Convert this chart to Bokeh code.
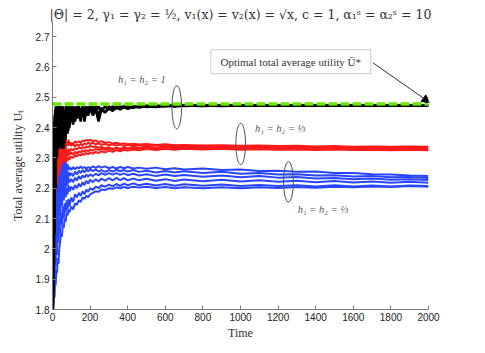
from bokeh.plotting import figure
from bokeh.models import Label, Arrow, NormalHead, BoxAnnotation, FixedTicker, NumeralTickFormatter
from bokeh.embed import file_html
from bokeh.resources import INLINE

# ---------------- data ----------------
T = [2, 5, 8, 11, 14, 17, 20, 24, 28, 32, 36, 40, 45, 50, 55, 60, 65, 70, 75, 80,
     85, 90, 100, 110, 120, 130, 140, 150, 160, 170, 180, 190, 200, 215, 230, 245,
     260, 280, 300, 320, 340, 360, 380, 400, 430, 460, 500, 550, 600, 650, 700,
     800, 900, 1000, 1100, 1200, 1300, 1400, 1500, 1600, 1700, 1800, 1900, 2000]

black_1 = [1.80, 2.10, 2.42, 2.30, 2.46, 2.38, 2.45, 2.36, 2.47, 2.40, 2.33, 2.46, 2.34, 2.47, 2.40, 2.33,
           2.46, 2.42, 2.47, 2.38, 2.46, 2.44, 2.47, 2.43, 2.46, 2.44, 2.47, 2.45, 2.47, 2.42, 2.46, 2.45,
           2.47, 2.44, 2.46, 2.42, 2.46, 2.45, 2.465, 2.455, 2.47, 2.46, 2.468, 2.462, 2.47, 2.466, 2.471,
           2.468, 2.472, 2.47, 2.473, 2.471, 2.473, 2.472, 2.474, 2.472, 2.473, 2.472, 2.474, 2.473, 2.472,
           2.474, 2.473, 2.474]
black_2 = [1.80, 2.35, 1.95, 2.44, 2.25, 2.47, 2.32, 2.45, 2.34, 2.47, 2.42, 2.36, 2.47, 2.33, 2.46, 2.41,
           2.35, 2.47, 2.40, 2.46, 2.39, 2.47, 2.44, 2.47, 2.42, 2.47, 2.44, 2.46, 2.44, 2.47, 2.44, 2.47,
           2.45, 2.47, 2.45, 2.47, 2.455, 2.47, 2.46, 2.47, 2.462, 2.47, 2.465, 2.47, 2.465, 2.472, 2.468,
           2.473, 2.47, 2.474, 2.471, 2.474, 2.472, 2.474, 2.472, 2.474, 2.472, 2.474, 2.472, 2.474, 2.473,
           2.472, 2.474, 2.473]
black_3 = [1.80, 1.90, 2.30, 2.05, 2.40, 2.20, 2.44, 2.30, 2.42, 2.35, 2.47, 2.38, 2.43, 2.36, 2.47, 2.38,
           2.44, 2.36, 2.45, 2.41, 2.47, 2.40, 2.45, 2.41, 2.47, 2.43, 2.45, 2.42, 2.46, 2.43, 2.47, 2.44,
           2.46, 2.45, 2.47, 2.44, 2.465, 2.45, 2.47, 2.458, 2.468, 2.46, 2.472, 2.464, 2.468, 2.47, 2.472,
           2.469, 2.473, 2.471, 2.472, 2.473, 2.471, 2.473, 2.473, 2.472, 2.474, 2.473, 2.473, 2.472, 2.474,
           2.473, 2.472, 2.473]

red_1 = [2.00, 2.15, 2.22, 2.18, 2.26, 2.22, 2.28, 2.24, 2.30, 2.27, 2.33, 2.30, 2.35, 2.32, 2.37, 2.34,
         2.36, 2.33, 2.35, 2.34, 2.36, 2.345, 2.35, 2.345, 2.355, 2.35, 2.355, 2.35, 2.358, 2.355, 2.36,
         2.356, 2.36, 2.355, 2.358, 2.352, 2.355, 2.35, 2.352, 2.348, 2.35, 2.346, 2.348, 2.345, 2.347,
         2.344, 2.346, 2.343, 2.345, 2.342, 2.343, 2.341, 2.342, 2.34, 2.341, 2.339, 2.34, 2.338, 2.339,
         2.337, 2.338, 2.337, 2.338, 2.337]
red_2 = [2.05, 2.20, 2.12, 2.25, 2.20, 2.29, 2.25, 2.31, 2.26, 2.33, 2.28, 2.35, 2.31, 2.36, 2.32, 2.35,
         2.33, 2.36, 2.34, 2.355, 2.34, 2.35, 2.34, 2.345, 2.338, 2.344, 2.34, 2.346, 2.342, 2.348, 2.345,
         2.35, 2.346, 2.35, 2.345, 2.348, 2.343, 2.346, 2.342, 2.345, 2.341, 2.344, 2.34, 2.343, 2.339,
         2.342, 2.34, 2.343, 2.34, 2.341, 2.338, 2.34, 2.337, 2.338, 2.336, 2.337, 2.335, 2.336, 2.335,
         2.336, 2.334, 2.335, 2.334, 2.335]
red_3 = [2.10, 2.18, 2.25, 2.21, 2.28, 2.24, 2.30, 2.26, 2.28, 2.25, 2.30, 2.27, 2.32, 2.29, 2.33, 2.31,
         2.34, 2.32, 2.33, 2.31, 2.33, 2.32, 2.33, 2.325, 2.332, 2.328, 2.335, 2.33, 2.336, 2.332, 2.338,
         2.334, 2.34, 2.336, 2.338, 2.334, 2.336, 2.332, 2.335, 2.33, 2.334, 2.33, 2.335, 2.332, 2.336,
         2.333, 2.337, 2.334, 2.338, 2.335, 2.337, 2.334, 2.336, 2.333, 2.335, 2.332, 2.334, 2.332, 2.333,
         2.331, 2.333, 2.331, 2.332, 2.331]
red_4 = [2.08, 2.16, 2.23, 2.19, 2.25, 2.21, 2.27, 2.23, 2.29, 2.26, 2.31, 2.28, 2.33, 2.30, 2.32, 2.29,
         2.32, 2.30, 2.32, 2.305, 2.32, 2.31, 2.318, 2.312, 2.32, 2.315, 2.322, 2.318, 2.325, 2.32, 2.326,
         2.322, 2.328, 2.324, 2.33, 2.326, 2.33, 2.327, 2.331, 2.328, 2.332, 2.329, 2.333, 2.33, 2.333,
         2.33, 2.334, 2.331, 2.334, 2.332, 2.334, 2.331, 2.333, 2.33, 2.332, 2.33, 2.331, 2.329, 2.331,
         2.329, 2.33, 2.328, 2.33, 2.328]
red_5 = [2.02, 2.12, 2.20, 2.15, 2.23, 2.19, 2.25, 2.21, 2.27, 2.24, 2.29, 2.26, 2.30, 2.28, 2.31, 2.29,
         2.30, 2.285, 2.30, 2.29, 2.305, 2.295, 2.305, 2.30, 2.31, 2.305, 2.312, 2.308, 2.314, 2.31, 2.316,
         2.312, 2.318, 2.314, 2.32, 2.316, 2.322, 2.318, 2.324, 2.32, 2.326, 2.322, 2.327, 2.324, 2.328,
         2.325, 2.329, 2.326, 2.33, 2.327, 2.33, 2.328, 2.33, 2.327, 2.329, 2.327, 2.328, 2.326, 2.328,
         2.326, 2.327, 2.325, 2.327, 2.325]

blue_1 = [1.85, 2.05, 1.95, 2.15, 2.08, 2.22, 2.15, 2.25, 2.18, 2.27, 2.21, 2.29, 2.23, 2.30, 2.25, 2.31,
          2.26, 2.29, 2.25, 2.28, 2.26, 2.27, 2.26, 2.27, 2.262, 2.27, 2.265, 2.272, 2.266, 2.27, 2.264,
          2.27, 2.266, 2.272, 2.267, 2.273, 2.268, 2.272, 2.266, 2.27, 2.265, 2.27, 2.266, 2.27, 2.265,
          2.268, 2.264, 2.268, 2.263, 2.266, 2.262, 2.265, 2.26, 2.262, 2.257, 2.258, 2.254, 2.255, 2.25,
          2.25, 2.246, 2.245, 2.242, 2.24]
blue_2 = [1.80, 1.98, 2.10, 2.02, 2.16, 2.10, 2.20, 2.14, 2.23, 2.17, 2.25, 2.19, 2.26, 2.21, 2.27, 2.23,
          2.26, 2.22, 2.25, 2.23, 2.255, 2.24, 2.25, 2.24, 2.255, 2.245, 2.258, 2.25, 2.26, 2.252, 2.262,
          2.255, 2.263, 2.256, 2.262, 2.255, 2.26, 2.254, 2.26, 2.255, 2.261, 2.256, 2.26, 2.255, 2.26,
          2.254, 2.258, 2.252, 2.257, 2.252, 2.256, 2.25, 2.254, 2.248, 2.25, 2.245, 2.246, 2.242, 2.243,
          2.239, 2.24, 2.236, 2.237, 2.234]
blue_3 = [1.82, 1.92, 2.04, 1.98, 2.10, 2.05, 2.14, 2.09, 2.18, 2.12, 2.20, 2.15, 2.22, 2.17, 2.23, 2.19,
          2.24, 2.20, 2.23, 2.21, 2.235, 2.22, 2.23, 2.22, 2.235, 2.225, 2.24, 2.23, 2.242, 2.235, 2.245,
          2.238, 2.246, 2.24, 2.248, 2.242, 2.25, 2.244, 2.25, 2.245, 2.25, 2.244, 2.249, 2.243, 2.248,
          2.242, 2.246, 2.24, 2.245, 2.24, 2.244, 2.238, 2.242, 2.236, 2.24, 2.235, 2.237, 2.232, 2.234,
          2.23, 2.232, 2.228, 2.23, 2.227]
blue_4 = [1.80, 1.88, 1.99, 1.94, 2.05, 2.00, 2.09, 2.04, 2.13, 2.08, 2.16, 2.11, 2.18, 2.14, 2.20, 2.16,
          2.21, 2.17, 2.20, 2.18, 2.21, 2.19, 2.205, 2.195, 2.21, 2.20, 2.215, 2.205, 2.22, 2.21, 2.225,
          2.215, 2.228, 2.22, 2.23, 2.222, 2.232, 2.225, 2.233, 2.226, 2.234, 2.227, 2.233, 2.226, 2.232,
          2.226, 2.231, 2.225, 2.23, 2.224, 2.229, 2.223, 2.228, 2.222, 2.226, 2.221, 2.225, 2.22, 2.224,
          2.219, 2.222, 2.218, 2.221, 2.218]
blue_5 = [1.80, 1.84, 1.92, 1.88, 1.98, 1.94, 2.03, 1.98, 2.07, 2.02, 2.10, 2.05, 2.12, 2.08, 2.14, 2.10,
          2.15, 2.12, 2.16, 2.13, 2.165, 2.14, 2.17, 2.155, 2.18, 2.17, 2.185, 2.175, 2.19, 2.18, 2.195,
          2.188, 2.20, 2.195, 2.205, 2.20, 2.21, 2.205, 2.212, 2.206, 2.214, 2.208, 2.215, 2.21, 2.216,
          2.21, 2.215, 2.209, 2.214, 2.208, 2.213, 2.208, 2.212, 2.207, 2.211, 2.207, 2.21, 2.206, 2.21,
          2.206, 2.209, 2.206, 2.209, 2.207]
blue_6 = [1.80, 1.82, 1.86, 1.84, 1.90, 1.88, 1.93, 1.92, 1.97, 1.95, 2.00, 2.02, 2.05, 2.04, 2.08, 2.07,
          2.10, 2.09, 2.12, 2.11, 2.13, 2.12, 2.14, 2.13, 2.15, 2.145, 2.16, 2.155, 2.17, 2.165, 2.175,
          2.17, 2.18, 2.185, 2.19, 2.188, 2.196, 2.194, 2.20, 2.198, 2.203, 2.20, 2.204, 2.201, 2.205,
          2.202, 2.205, 2.201, 2.204, 2.20, 2.203, 2.20, 2.203, 2.20, 2.203, 2.201, 2.204, 2.202, 2.205,
          2.203, 2.206, 2.204, 2.207, 2.205]

optimal_x = [0, 2000]
optimal_y = [2.478, 2.478]

x_ticks = [0, 200, 400, 600, 800, 1000, 1200, 1400, 1600, 1800, 2000]
y_ticks = [1.8, 1.9, 2.0, 2.1, 2.2, 2.3, 2.4, 2.5, 2.6, 2.7]

title_text = "|\u0398| = 2, \u03b3\u2081 = \u03b3\u2082 = \u00bd, v\u2081(x) = v\u2082(x) = \u221ax, c = 1, \u03b1\u2081\u02e2 = \u03b1\u2082\u02e2 = 10"
label_h1 = "h\u2081 = h\u2082 = 1"
label_h3 = "h\u2081 = h\u2082 = \u2153"
label_h23 = "h\u2081 = h\u2082 = \u2154"
box_text = "Optimal total average utility \u016a*"

# ---------------- figure ----------------
SERIF = "Liberation Serif"
SANS = "Liberation Sans"

p = figure(width=477, height=345, x_range=(0, 2000), y_range=(1.8, 2.75),
           output_backend="svg", toolbar_location=None,
           min_border_left=52, min_border_right=49, min_border_top=21, min_border_bottom=36)
p.grid.visible = False
p.outline_line_color = None
p.background_fill_color = "white"
p.border_fill_color = "white"

p.title.text = title_text
p.title.align = "center"
p.title.offset = -6
p.title.standoff = 0
p.title.text_font = "DejaVu Serif"
p.title.text_font_style = "normal"
p.title.text_font_size = "12.5px"
p.title.text_color = "#333333"

BLUE = "#2846ff"
RED = "#ff1a1a"
for ys in [blue_1, blue_2, blue_3, blue_4, blue_5, blue_6]:
    p.line(T, ys, line_color=BLUE, line_width=2)
for ys in [red_1, red_2, red_3, red_4, red_5]:
    p.line(T, ys, line_color=RED, line_width=2)
for ys in [black_1, black_2, black_3]:
    p.line(T, ys, line_color="black", line_width=2.5)
p.line(optimal_x, optimal_y, line_color="#66e600", line_width=3.5, line_dash="9 3")

# ellipses
p.ellipse(x=[661, 1001, 1255], y=[2.467, 2.346, 2.221], width=[52, 52, 52],
          height=[0.142, 0.136, 0.135], fill_color=None, line_color="#555555", line_width=1)

# text labels
for txt, x, y in [(label_h1, 348, 2.558), (label_h3, 1077, 2.398), (label_h23, 1305, 2.129)]:
    p.add_layout(Label(x=x, y=y, text=txt, text_font=SERIF, text_font_style="italic",
                       text_font_size="10.5px", text_color="#555555", text_baseline="middle"))

# box with text
p.add_layout(BoxAnnotation(left=842, right=1693, bottom=2.578, top=2.657,
                           fill_color="white", fill_alpha=1, line_color="#555555", line_width=1))
p.add_layout(Label(x=1267, y=2.6175, text=box_text, text_font=SERIF, text_font_size="11px",
                   text_color="#333333", text_align="center", text_baseline="middle"))

p.add_layout(Arrow(end=NormalHead(size=8, fill_color="black", line_color="black"),
                   x_start=1704, y_start=2.614, x_end=2008, y_end=2.482,
                   line_color="#333333", line_width=1))

# axes
for ax in [p.xaxis[0], p.yaxis[0]]:
    ax.axis_line_color = "#7a7a7a"
    ax.major_tick_line_color = "#7a7a7a"
    ax.major_tick_in = 4
    ax.major_tick_out = 0
    ax.minor_tick_line_color = None
    ax.major_label_text_font = SANS
    ax.major_label_text_font_size = "10px"
    ax.major_label_text_color = "#222222"
    ax.axis_label_text_font = SERIF
    ax.axis_label_text_font_style = "normal"
    ax.axis_label_text_font_size = "12px"
    ax.axis_label_text_color = "#333333"

p.xaxis.ticker = FixedTicker(ticks=x_ticks)
p.yaxis.ticker = FixedTicker(ticks=y_ticks)
p.yaxis.formatter = NumeralTickFormatter(format="0.[0]")
p.xaxis.major_label_standoff = 3
p.yaxis.major_label_standoff = 3
p.xaxis.axis_label = "Time"
p.yaxis.axis_label = "Total average utility U\u209c"
p.xaxis.axis_label_standoff = 2
p.yaxis.axis_label_standoff = 8

open("out.html", "w").write(file_html(p, INLINE))
